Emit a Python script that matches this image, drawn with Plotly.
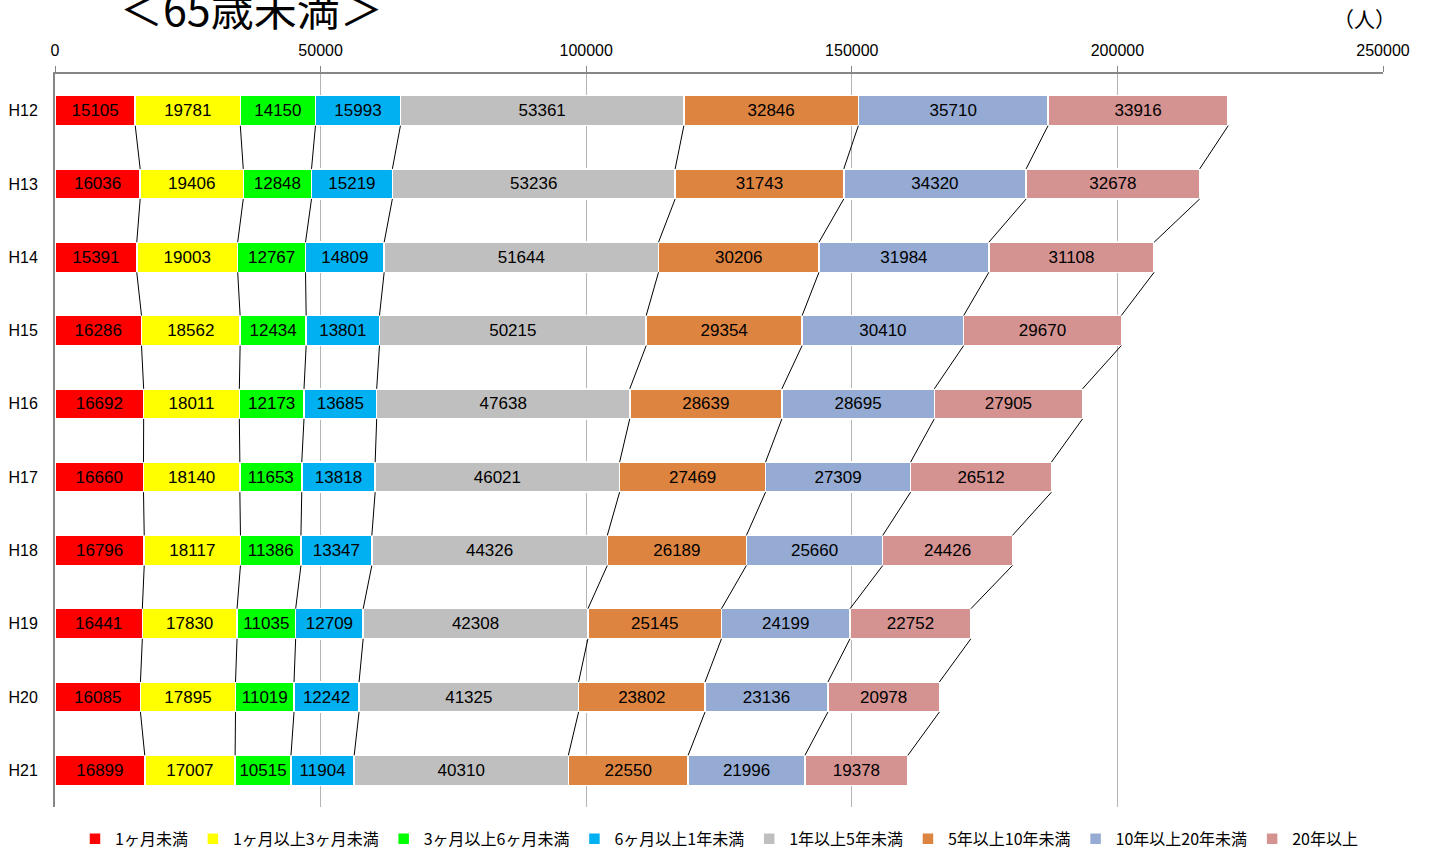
import plotly.graph_objects as go

years = ['H12', 'H13', 'H14', 'H15', 'H16', 'H17', 'H18', 'H19', 'H20', 'H21']
categories = ['1ヶ月未満', '1ヶ月以上3ヶ月未満', '3ヶ月以上6ヶ月未満', '6ヶ月以上1年未満',
              '1年以上5年未満', '5年以上10年未満', '10年以上20年未満', '20年以上']
colors = ['#ff0000', '#ffff00', '#00ff00', '#00b0f0',
          '#bfbfbf', '#dd8441', '#95abd3', '#d49291']

# one list per duration category, H12..H21
under_1m = [15105, 16036, 15391, 16286, 16692, 16660, 16796, 16441, 16085, 16899]
m1_to_3 = [19781, 19406, 19003, 18562, 18011, 18140, 18117, 17830, 17895, 17007]
m3_to_6 = [14150, 12848, 12767, 12434, 12173, 11653, 11386, 11035, 11019, 10515]
m6_to_1y = [15993, 15219, 14809, 13801, 13685, 13818, 13347, 12709, 12242, 11904]
y1_to_5 = [53361, 53236, 51644, 50215, 47638, 46021, 44326, 42308, 41325, 40310]
y5_to_10 = [32846, 31743, 30206, 29354, 28639, 27469, 26189, 25145, 23802, 22550]
y10_to_20 = [35710, 34320, 31984, 30410, 28695, 27309, 25660, 24199, 23136, 21996]
over_20y = [33916, 32678, 31108, 29670, 27905, 26512, 24426, 22752, 20978, 19378]

series = [under_1m, m1_to_3, m3_to_6, m6_to_1y, y1_to_5, y5_to_10, y10_to_20, over_20y]
x_ticks = [0, 50000, 100000, 150000, 200000, 250000]

bar_w = 0.41
ypos = list(range(len(years)))
font = 'Liberation Sans'

fig = go.Figure()

for name, vals, col in zip(categories, series, colors):
    fig.add_trace(go.Bar(
        y=ypos,
        x=vals,
        name=name,
        orientation='h',
        width=bar_w,
        marker=dict(color=col, line=dict(color='white', width=1.5)),
        text=[str(v) for v in vals],
        textposition='inside',
        insidetextanchor='middle',
        textangle=0,
        constraintext='none',
        textfont=dict(family=font, size=17, color='black'),
        hoverinfo='x+name'
    ))

# series lines between the segment edges of neighbouring bars
cums = []
for i in range(len(years)):
    run, row = 0, []
    for s in series:
        run += s[i]
        row.append(run)
    cums.append(row)

lx, ly = [], []
for k in range(len(series)):
    for i in range(len(years) - 1):
        lx += [cums[i][k], cums[i + 1][k], None]
        ly += [i + bar_w / 2, i + 1 - bar_w / 2, None]

fig.add_trace(go.Scatter(
    x=lx, y=ly, mode='lines',
    line=dict(color='black', width=1),
    showlegend=False, hoverinfo='skip'
))

fig.add_annotation(
    text='＜65歳未満＞', xref='paper', yref='paper',
    x=0.148, y=1.091, xanchor='center', yanchor='middle',
    showarrow=False, font=dict(family='Noto Sans CJK JP', size=43, color='black')
)
fig.add_annotation(
    text='（人）', xref='paper', yref='paper',
    x=0.986, y=1.077, xanchor='center', yanchor='middle',
    showarrow=False, font=dict(family='Noto Sans CJK JP', size=21, color='black')
)

fig.update_layout(
    barmode='stack',
    width=1429, height=850,
    margin=dict(l=55, r=46, t=74, b=43),
    paper_bgcolor='white', plot_bgcolor='white',
    font=dict(family=font, size=15, color='black'),
    legend=dict(
        orientation='h', x=0.5, xanchor='center',
        yref='container', y=0.013, yanchor='middle',
        font=dict(family='Noto Sans CJK JP', size=16, color='black'),
        traceorder='normal', itemwidth=30
    ),
    xaxis=dict(
        side='top', range=[0, 250000], tickvals=x_ticks,
        ticktext=[str(t) for t in x_ticks],
        showgrid=True, gridcolor='#b4b4b4', gridwidth=1,
        showline=True, linecolor='#868686', linewidth=2,
        ticks='outside', ticklen=6, tickcolor='#868686',
        ticklabelstandoff=4, automargin=False,
        zeroline=False, tickfont=dict(family=font, size=16, color='black')
    ),
    yaxis=dict(
        range=[len(years) - 0.5, -0.5], tickvals=ypos, ticktext=years,
        showgrid=False, zeroline=False,
        showline=True, linecolor='#868686', linewidth=2,
        ticks='', ticklabelstandoff=12, automargin=False,
        tickfont=dict(family=font, size=16, color='black')
    )
)

# drop the default body margin so the figure sits at the window's corner
fig.write_html('out.html', config={'displayModeBar': False},
               post_script="document.body.style.margin = '0';")
